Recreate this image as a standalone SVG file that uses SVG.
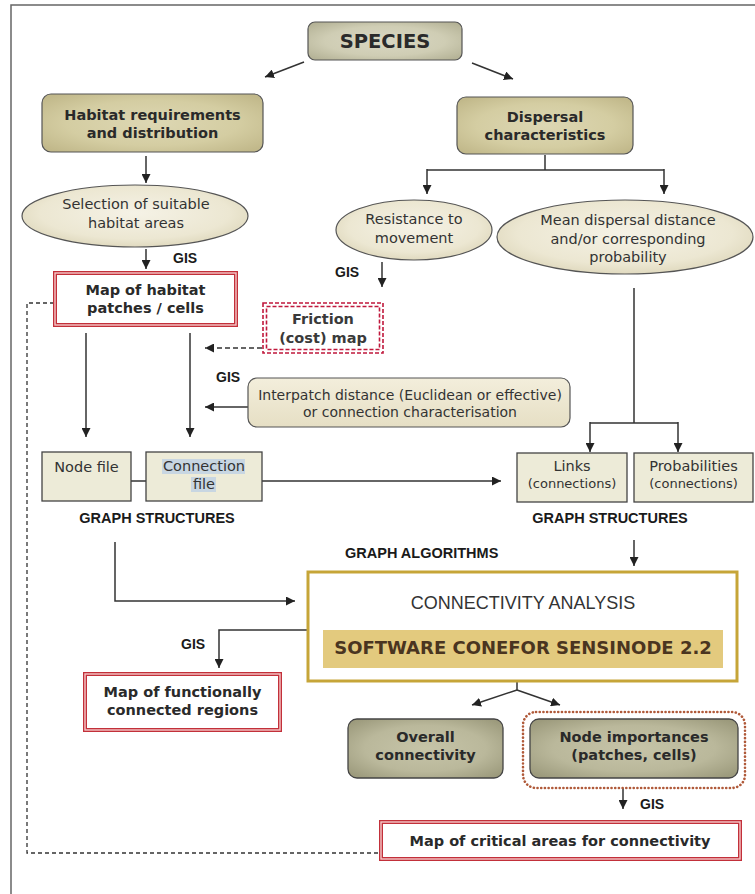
<svg xmlns="http://www.w3.org/2000/svg" width="755" height="894" viewBox="0 0 755 894">
<defs>
<style>
.t{font-family:"DejaVu Sans",Verdana,sans-serif;font-size:14.5px;fill:#333;text-anchor:middle}
.b{font-weight:bold;fill:#2a2a2a}
.a{font-family:"Liberation Sans",Arial,sans-serif;font-weight:bold;font-size:14px;fill:#1a1a1a}
.ln{fill:none;stroke:#333;stroke-width:1.5}
.arr{marker-end:url(#ah)}
.dash{stroke-dasharray:5 3}
.box{stroke:#555;stroke-width:1.2}
.file{fill:#edebd8;stroke:#444;stroke-width:1.3}
.red1{fill:#fff;stroke:#c2303a;stroke-width:4}
.red2{fill:none;stroke:#f6c8c8;stroke-width:1.4}
</style>
<marker id="ah" viewBox="0 0 10 10" refX="10" refY="5" markerWidth="9" markerHeight="9" markerUnits="userSpaceOnUse" orient="auto">
<path d="M0,0 L10,5 L0,10 z" fill="#222"/>
</marker>
<radialGradient id="gSp" cx="50%" cy="50%" r="65%">
<stop offset="0" stop-color="#d9d7c3"/><stop offset="0.6" stop-color="#cfcdb4"/><stop offset="1" stop-color="#b4b296"/>
</radialGradient>
<radialGradient id="gHab" cx="50%" cy="50%" r="65%">
<stop offset="0" stop-color="#ddd7b3"/><stop offset="0.6" stop-color="#d4cda2"/><stop offset="1" stop-color="#c1b88a"/>
</radialGradient>
<radialGradient id="gEl" cx="50%" cy="45%" r="60%">
<stop offset="0" stop-color="#f5f2e6"/><stop offset="0.7" stop-color="#ece7d2"/><stop offset="1" stop-color="#dcd5b8"/>
</radialGradient>
<radialGradient id="gOut" cx="50%" cy="50%" r="65%">
<stop offset="0" stop-color="#c6c4a8"/><stop offset="0.6" stop-color="#bab89b"/><stop offset="1" stop-color="#9c9a7c"/>
</radialGradient>
<linearGradient id="gInt" x1="0" y1="0" x2="0" y2="1">
<stop offset="0" stop-color="#f3eedc"/><stop offset="1" stop-color="#e6dfc4"/>
</linearGradient>
</defs>
<rect width="755" height="894" fill="#fff"/>
<path d="M11,894 V5 H755" fill="none" stroke="#666" stroke-width="1.5"/>

<g id="connectors">
<line class="ln arr" x1="304" y1="62" x2="265" y2="77"/>
<line class="ln arr" x1="472" y1="63" x2="513" y2="79"/>
<line class="ln arr" x1="146" y1="156" x2="146" y2="183"/>
<line class="ln arr" x1="146" y1="249" x2="146" y2="269"/>
<path class="ln" d="M545,155 V170 M427,170 H664"/>
<line class="ln arr" x1="427" y1="169" x2="427" y2="194"/>
<line class="ln arr" x1="664" y1="169" x2="664" y2="194"/>
<line class="ln arr" x1="382" y1="262" x2="382" y2="287"/>
<line class="ln arr dash" x1="262" y1="348" x2="205" y2="348"/>
<line class="ln arr" x1="248" y1="407" x2="205" y2="407"/>
<line class="ln arr" x1="86" y1="333" x2="86" y2="437"/>
<line class="ln arr" x1="190" y1="333" x2="190" y2="437"/>
<line class="ln" x1="131" y1="481" x2="146" y2="481"/>
<line class="ln arr" x1="262" y1="481" x2="501" y2="481"/>
<path class="ln" d="M634,288 V423 M590,423 H678"/>
<line class="ln arr" x1="590" y1="422" x2="590" y2="452"/>
<line class="ln arr" x1="678" y1="422" x2="678" y2="452"/>
<line class="ln arr" x1="634" y1="540" x2="634" y2="566"/>
<path class="ln arr" d="M115,542 V601 H295"/>
<path class="ln arr" d="M307,630 H219 V668"/>
<path class="ln" d="M517,682 V690"/>
<line class="ln arr" x1="517" y1="690" x2="472" y2="705"/>
<line class="ln arr" x1="517" y1="690" x2="560" y2="705"/>
<line class="ln arr" x1="623" y1="788" x2="623" y2="809"/>
<path d="M54,303 H27 V853 H380" fill="none" stroke="#333" stroke-width="1.3" stroke-dasharray="4 3"/>
</g>

<g id="labels">
<text class="a" x="173" y="263">GIS</text>
<text class="a" x="335" y="277">GIS</text>
<text class="a" x="216" y="382">GIS</text>
<text class="a" x="181" y="649">GIS</text>
<text class="a" x="640" y="809">GIS</text>
<text class="a" x="157" y="523" text-anchor="middle" style="font-size:14.5px">GRAPH STRUCTURES</text>
<text class="a" x="610" y="523" text-anchor="middle" style="font-size:14.5px">GRAPH STRUCTURES</text>
<text class="a" x="345" y="558" style="font-size:14.5px">GRAPH ALGORITHMS</text>
</g>

<g id="species">
<rect x="308" y="22" width="154" height="38" rx="7" fill="url(#gSp)" class="box"/>
<text class="t b" x="385" y="48" style="font-size:19.5px">SPECIES</text>
</g>
<g id="habitat">
<rect x="42" y="94" width="221" height="58" rx="9" fill="url(#gHab)" class="box"/>
<text class="t b" x="152.5" y="120">Habitat requirements</text>
<text class="t b" x="152.5" y="138">and distribution</text>
</g>
<g id="dispersal">
<rect x="457" y="97" width="176" height="57" rx="9" fill="url(#gHab)" class="box"/>
<text class="t b" x="545" y="122">Dispersal</text>
<text class="t b" x="545" y="140">characteristics</text>
</g>
<g id="selection">
<ellipse cx="135" cy="216" rx="113" ry="31" fill="url(#gEl)" class="box"/>
<text class="t" x="136" y="209">Selection of suitable</text>
<text class="t" x="136" y="228">habitat areas</text>
</g>
<g id="resistance">
<ellipse cx="414" cy="230" rx="78" ry="30" fill="url(#gEl)" class="box"/>
<text class="t" x="414" y="224">Resistance to</text>
<text class="t" x="414" y="243">movement</text>
</g>
<g id="meandispersal">
<ellipse cx="625" cy="237" rx="128" ry="37" fill="url(#gEl)" class="box"/>
<text class="t" x="628" y="225">Mean dispersal distance</text>
<text class="t" x="628" y="244">and/or corresponding</text>
<text class="t" x="628" y="262">probability</text>
</g>
<g id="maphabitat">
<rect x="55" y="273" width="181" height="52" class="red1"/>
<rect x="55" y="273" width="181" height="52" class="red2"/>
<text class="t b" x="145.5" y="295">Map of habitat</text>
<text class="t b" x="145.5" y="313">patches / cells</text>
</g>
<g id="friction">
<rect x="263" y="303" width="120" height="50" fill="#fff" stroke="#c0183c" stroke-width="1.6" stroke-dasharray="4 2"/>
<rect x="266.5" y="306.5" width="113" height="43" fill="none" stroke="#c0183c" stroke-width="1.6" stroke-dasharray="4 2"/>
<text class="t b" x="323" y="324" style="fill:#3a3a3a">Friction</text>
<text class="t b" x="323" y="343" style="fill:#3a3a3a">(cost) map</text>
</g>
<g id="interpatch">
<rect x="248" y="378" width="322" height="49" rx="9" fill="url(#gInt)" class="box"/>
<text class="t" x="410" y="400" style="font-size:14px">Interpatch distance (Euclidean or effective)</text>
<text class="t" x="410" y="417" style="font-size:14px">or connection characterisation</text>
</g>
<g id="nodefile">
<rect x="42" y="452" width="89" height="49" class="file"/>
<text class="t" x="86.5" y="472">Node file</text>
</g>
<g id="connectionfile">
<rect x="146" y="452" width="116" height="49" class="file"/>
<rect x="162" y="459" width="83" height="15" fill="#c8d6e2"/>
<rect x="191" y="477" width="25" height="15" fill="#c8d6e2"/>
<text class="t" x="204" y="471">Connection</text>
<text class="t" x="204" y="489">file</text>
</g>
<g id="links">
<rect x="517" y="453" width="110" height="49" class="file"/>
<text class="t" x="572" y="471">Links</text>
<text class="t" x="572" y="488" style="font-size:13px">(connections)</text>
</g>
<g id="probabilities">
<rect x="634" y="453" width="119" height="49" class="file"/>
<text class="t" x="693.5" y="471">Probabilities</text>
<text class="t" x="693.5" y="488" style="font-size:13px">(connections)</text>
</g>
<g id="connectivity">
<rect x="308" y="572" width="429" height="109" fill="#fff" stroke="#c6a538" stroke-width="3"/>
<text x="523" y="609" style="font-family:'Liberation Sans',Arial,sans-serif;font-size:18px;fill:#333;text-anchor:middle">CONNECTIVITY ANALYSIS</text>
<rect x="323" y="630" width="400" height="38" fill="#e3ca7e"/>
<text class="t b" x="523" y="654" style="font-size:18px;fill:#4a3520">SOFTWARE CONEFOR SENSINODE 2.2</text>
</g>
<g id="mapfunctional">
<rect x="85" y="674" width="195" height="56" class="red1"/>
<rect x="85" y="674" width="195" height="56" class="red2"/>
<text class="t b" x="182.5" y="697">Map of functionally</text>
<text class="t b" x="182.5" y="715">connected regions</text>
</g>
<g id="overall">
<rect x="348" y="719" width="155" height="59" rx="9" fill="url(#gOut)" stroke="#444" stroke-width="1.3"/>
<text class="t b" x="425.5" y="742">Overall</text>
<text class="t b" x="425.5" y="760">connectivity</text>
</g>
<g id="nodeimportances">
<rect x="523" y="712" width="222" height="76" rx="13" fill="none" stroke="#b05a3a" stroke-width="2.6" stroke-dasharray="0.1 3.6" stroke-linecap="round"/>
<rect x="530" y="719" width="208" height="59" rx="9" fill="url(#gOut)" stroke="#444" stroke-width="1.3"/>
<text class="t b" x="634" y="742">Node importances</text>
<text class="t b" x="634" y="760">(patches, cells)</text>
</g>
<g id="mapcritical">
<rect x="381" y="822" width="359" height="37" class="red1"/>
<rect x="381" y="822" width="359" height="37" class="red2"/>
<text class="t b" x="560" y="846">Map of critical areas for connectivity</text>
</g>
</svg>
